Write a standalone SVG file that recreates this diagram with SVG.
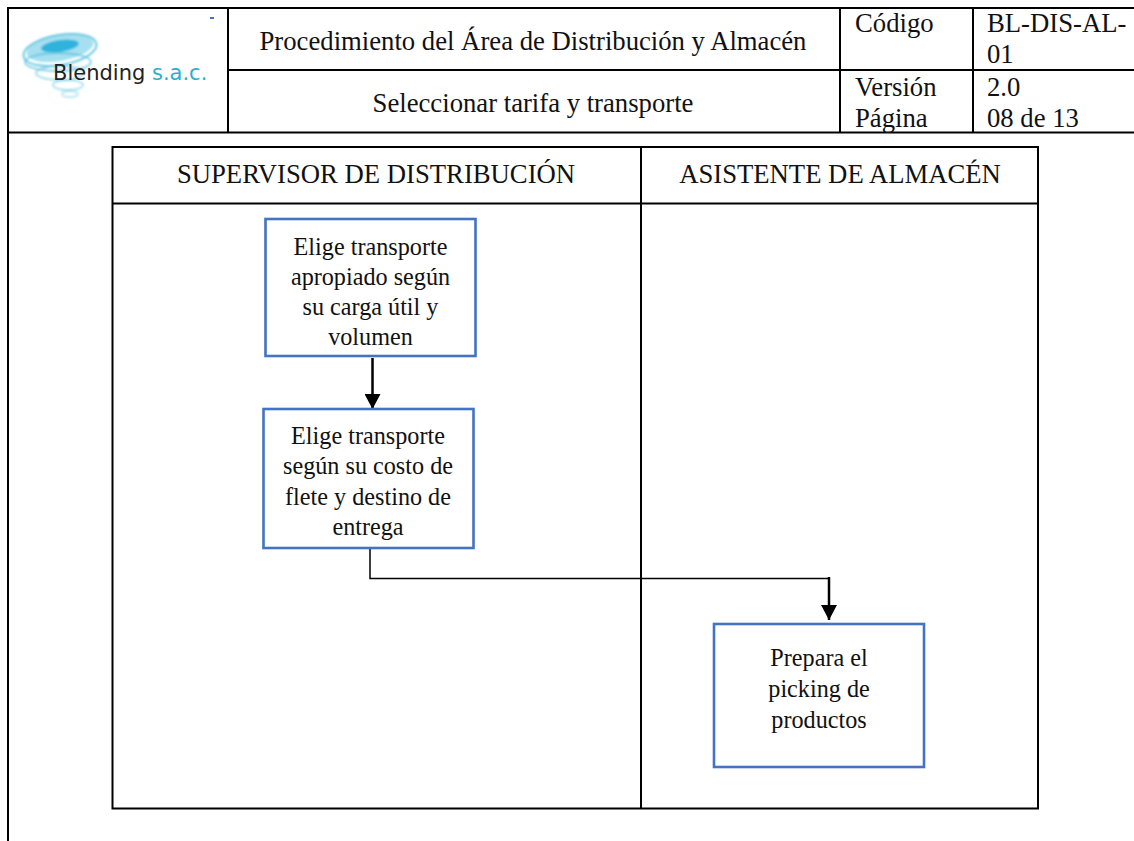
<svg xmlns="http://www.w3.org/2000/svg" width="1134" height="841" viewBox="0 0 1134 841">
<style>
.l{stroke:#000;stroke-width:2;fill:none}
.t{font-family:"Liberation Serif","Times New Roman",serif;font-size:26.700px;fill:#111}
.b{font-family:"Liberation Serif","Times New Roman",serif;font-size:24.200px;fill:#111;text-anchor:middle}
.m{text-anchor:middle}
.n{fill:#fff;stroke:#4472c4;stroke-width:2.600}
.c{stroke:#000;fill:none}
.s{fill:none;stroke:#5cc3e0;stroke-width:1.800}
</style>
<defs>
<marker id="a" markerUnits="userSpaceOnUse" markerWidth="16" markerHeight="16" refX="15" refY="8" orient="auto"><path d="M0 0L15 8L0 16Z" fill="#000"/></marker>
<filter id="f" x="-10%" y="-10%" width="120%" height="120%"><feGaussianBlur stdDeviation="0.800"/></filter>
</defs>
<rect width="1134" height="841" fill="#fff"/>
<g id="table">
<path class="l" d="M8 841V8H1134M8 132.500H1134M228 8V132.500M840 8V132.500M973 8V132.500M228 70H1134"/>
<text class="t m" x="533" y="50">Procedimiento del Área de Distribución y Almacén</text>
<text class="t m" x="533" y="112">Seleccionar tarifa y transporte</text>
<text class="t" x="855" y="32">Código</text>
<text class="t" x="987" y="32">BL-DIS-AL-</text>
<text class="t" x="987" y="63">01</text>
<text class="t" x="855" y="96">Versión</text>
<text class="t" x="987" y="96">2.0</text>
<text class="t" x="855" y="127">Página</text>
<text class="t" x="987" y="127">08 de 13</text>
</g>
<g id="logo">
<rect x="210" y="17" width="4" height="2" fill="#4472c4"/>
<g filter="url(#f)">
<ellipse cx="60" cy="48" rx="34" ry="13" fill="#a6e0f0" transform="rotate(-10 60 48)"/>
<ellipse cx="60" cy="46" rx="19" ry="6" fill="#2fb4dc" transform="rotate(-8 60 46)"/>
<ellipse class="s" cx="60" cy="50" rx="37" ry="15" transform="rotate(-10 60 50)"/>
<ellipse class="s" cx="58" cy="62" rx="33" ry="9" opacity=".8"/>
<ellipse class="s" cx="60" cy="73" rx="24" ry="7" opacity=".6"/>
<ellipse class="s" cx="68" cy="85" rx="15" ry="5" opacity=".5"/>
<ellipse class="s" cx="70" cy="94" rx="8" ry="3" opacity=".4"/>
</g>
<text x="53" y="80" font-family="'DejaVu Sans',sans-serif" font-size="21px" fill="#222">Blending <tspan fill="#2eaecb">s.a.c.</tspan></text>
</g>
<g id="lanes">
<path class="l" d="M112.500 147H1038V808.500H112.500ZM112.500 203.500H1038M641 147V808.500"/>
<text class="t m" x="376" y="183">SUPERVISOR DE DISTRIBUCIÓN</text>
<text class="t m" x="840" y="183">ASISTENTE DE ALMACÉN</text>
</g>
<g id="connectors">
<path class="c" stroke-width="2.500" marker-end="url(#a)" d="M372.500 358V409"/>
<path class="c" stroke-width="1.500" d="M370 549V578.500H829"/>
<path class="c" stroke-width="2.500" marker-end="url(#a)" d="M829 577V620"/>
</g>
<g id="n1">
<rect class="n" x="265.500" y="219" width="210" height="137"/>
<text class="b" x="370.500" y="255">Elige transporte</text>
<text class="b" x="370.500" y="285">apropiado según</text>
<text class="b" x="370.500" y="315">su carga útil y</text>
<text class="b" x="370.500" y="345">volumen</text>
</g>
<g id="n2">
<rect class="n" x="263.500" y="409" width="210" height="139"/>
<text class="b" x="368" y="444">Elige transporte</text>
<text class="b" x="368" y="474">según su costo de</text>
<text class="b" x="368" y="505">flete y destino de</text>
<text class="b" x="368" y="535">entrega</text>
</g>
<g id="n3">
<rect class="n" x="714" y="624" width="210" height="143"/>
<text class="b" x="819" y="666">Prepara el</text>
<text class="b" x="819" y="697">picking de</text>
<text class="b" x="819" y="728">productos</text>
</g>
</svg>
